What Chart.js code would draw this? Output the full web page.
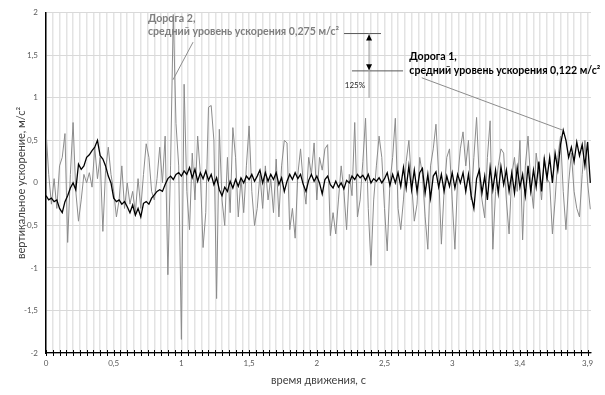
<!DOCTYPE html>
<html>
<head>
<meta charset="utf-8">
<script src="https://cdn.jsdelivr.net/npm/chart.js@4.4.1/dist/chart.umd.min.js"></script>
<style>body{margin:0;background:#fff}</style>
</head>
<body>
<canvas id="c" width="605" height="395"></canvas>
<script>
// sample step, s
const dt = 0.02;

// Дорога 1 (black)
const road1 = [
-0.15,-0.2,-0.18,-0.22,-0.2,-0.3,-0.35,-0.22,-0.15,-0.06,
0.0,-0.08,0.22,0.16,0.2,0.3,0.33,0.38,0.42,0.5,
0.32,0.28,0.2,0.08,0.0,-0.18,-0.22,-0.2,-0.25,-0.22,
-0.28,-0.35,-0.26,-0.38,-0.3,-0.4,-0.24,-0.22,-0.25,-0.18,
-0.14,-0.1,-0.08,-0.1,-0.02,0.05,0.08,0.04,0.1,0.12,
0.08,0.14,0.1,0.18,0.06,0.16,0.02,0.12,0.05,0.14,
0.03,0.1,-0.02,0.06,-0.08,-0.15,-0.05,-0.1,0.02,-0.06,
0.04,-0.04,0.06,0.0,0.08,0.04,0.1,0.02,0.08,0.15,
0.0,0.12,0.02,0.1,0.04,0.12,-0.02,0.06,-0.1,0.02,
0.1,0.04,0.12,0.05,0.1,-0.02,-0.1,0.03,0.1,0.02,
0.08,0.0,-0.13,0.04,0.08,-0.02,-0.06,0.02,-0.05,0.0,
-0.07,0.03,0.0,0.08,0.04,0.1,0.06,0.09,0.03,0.1,
0.0,0.05,0.02,0.06,0.0,0.05,0.12,-0.03,0.1,0.0,
0.12,-0.04,0.18,-0.06,0.2,-0.08,0.15,-0.1,0.12,0.17,
-0.12,0.1,-0.18,0.08,0.13,-0.05,0.1,-0.1,0.08,-0.04,
0.12,-0.06,0.1,0.0,0.12,-0.1,0.1,-0.15,-0.3,0.05,
0.15,-0.12,0.08,-0.2,0.18,-0.08,0.15,-0.12,0.19,-0.02,
0.15,-0.1,0.12,-0.12,0.18,-0.05,0.1,-0.15,0.2,-0.1,
0.15,-0.05,0.25,-0.1,0.28,0.05,0.3,0.0,0.35,0.15,
0.45,0.62,0.5,0.3,0.42,0.25,0.48,0.32,0.45,0.2,
0.48,0.0
];

// Дорога 2 (grey)
const road2 = [
0.62,0.1,-0.25,0.05,-0.3,0.2,0.3,0.58,-0.7,0.1,
0.71,-0.1,-0.45,-0.2,0.1,0.0,0.12,-0.05,0.42,0.05,
0.3,-0.57,0.15,0.42,0.1,-0.1,-0.4,-0.2,0.2,-0.3,
0.0,-0.25,-0.1,-0.35,0.05,-0.3,0.1,0.46,0.3,-0.1,
-0.2,0.05,0.42,0.0,0.55,-1.08,0.2,1.98,0.7,0.2,
-1.84,1.16,-0.1,-0.55,0.35,-0.2,0.55,0.1,-0.76,-0.35,
0.89,0.91,0.5,-1.36,0.63,-0.2,-0.5,0.3,-0.35,0.65,
0.3,-0.4,0.05,-0.35,0.2,0.67,-0.1,-0.5,-0.3,0.1,
-0.3,0.2,-0.2,0.05,-0.35,0.28,-0.4,0.2,0.5,0.47,
-0.55,-0.3,-0.65,0.1,0.4,0.0,-0.25,0.3,0.1,0.47,
-0.2,0.3,0.15,0.4,0.45,-0.62,-0.35,-0.6,-0.2,0.2,
-0.1,-0.55,0.1,-0.15,0.71,-0.4,-0.2,0.25,0.76,-0.3,
-0.97,-0.2,0.2,0.55,0.3,-0.3,-0.8,0.0,0.3,0.76,
-0.3,-0.55,-0.2,0.25,0.5,0.0,-0.45,-0.25,0.3,0.1,
-0.4,-0.78,0.2,0.4,0.69,0.1,-0.72,-0.1,0.3,0.4,
-0.2,-0.78,0.05,0.4,0.6,0.2,0.5,-0.2,0.3,0.77,
0.05,-0.2,-0.41,0.3,0.73,-0.78,-0.1,0.2,0.4,0.35,
-0.2,-0.6,0.1,0.3,-0.1,0.5,-0.67,0.2,0.55,0.0,
-0.3,0.35,0.1,-0.2,0.3,0.05,0.0,-0.6,-0.2,0.3,
0.55,-0.1,-0.55,0.0,0.35,-0.1,-0.3,-0.4,0.1,0.5,
0.0,-0.31
];

const xTickLabels = ['0','0,5','1','1,5','2','2,5','3','3,4','3,9'];
const yTickLabels = ['-2','-1,5','-1','-0,5','0','0,5','1','1,5','2'];

function pts(arr){ return arr.map((v,i)=>({x:+(i*dt).toFixed(2), y:v})); }

// small crosses on the x axis
const tickCross = {
  id:'tickCross',
  afterDraw(chart){
    const ctx = chart.ctx, sx = chart.scales.x, b = chart.chartArea.bottom;
    ctx.save();
    ctx.strokeStyle = '#000'; ctx.lineWidth = 1;
    sx.ticks.forEach(t=>{
      const px = Math.round(sx.getPixelForValue(t.value))+0.5;
      ctx.beginPath(); ctx.moveTo(px,b-3); ctx.lineTo(px,b+3); ctx.stroke();
    });
    ctx.restore();
  }
};

// callouts, anchored in data units
const annot = {
  id:'annot',
  afterDraw(chart){
    const {ctx, scales:{x,y}} = chart;
    const X = v=>x.getPixelForValue(v), Y = v=>y.getPixelForValue(v);
    function ln(x1,y1,x2,y2,c,w){
      ctx.beginPath(); ctx.strokeStyle=c; ctx.lineWidth=w||1;
      ctx.moveTo(X(x1),Y(y1)); ctx.lineTo(X(x2),Y(y2)); ctx.stroke();
    }
    function tri(xv,yv,dir){
      const px=X(xv), py=Y(yv);
      ctx.beginPath(); ctx.fillStyle='#000';
      ctx.moveTo(px,py); ctx.lineTo(px-3,py+dir*6); ctx.lineTo(px+3,py+dir*6); ctx.closePath(); ctx.fill();
    }
    ctx.save();
    // Дорога 2
    ln(1.086,1.655,0.938,1.213,'#8c8c8c');
    ln(2.201,1.756,2.474,1.756,'#595959');
    // Дорога 1
    ln(2.26,1.317,2.637,1.317,'#595959');
    ln(2.775,1.236,3.818,0.619,'#8c8c8c');
    // difference arrow
    ln(2.386,1.756,2.386,1.0,'#a6a6a6',1.2);
    tri(2.386,1.745,1);
    tri(2.386,1.325,-1);

    ctx.textBaseline='alphabetic'; ctx.textAlign='left';
    ctx.font='bold 10.6px Lato';
    ctx.fillStyle='#7f7f7f';
    ctx.fillText('Дорога 2,', X(0.753), Y(1.893));
    ctx.fillText('средний уровень ускорения 0,275 м/с²', X(0.753), Y(1.736));
    ctx.fillStyle='#000';
    ctx.fillText('Дорога 1,', X(2.683), Y(1.442));
    ctx.fillText('средний уровень ускорения 0,122 м/с²', X(2.683), Y(1.286));
    ctx.font='8px Lato'; ctx.textAlign='center'; ctx.fillStyle='#262626';
    ctx.fillText('125%', X(2.282), Y(1.12));
    ctx.restore();
  }
};

new Chart(document.getElementById('c'), {
  type:'line',
  data:{
    datasets:[
      {label:'Дорога 1', data:pts(road1), borderColor:'#000', borderWidth:1.3, pointRadius:0, tension:0},
      {label:'Дорога 2', data:pts(road2), borderColor:'#8c8c8c', borderWidth:1, pointRadius:0, tension:0}
    ]
  },
  options:{
    responsive:false,
    animation:false,
    layout:{padding:{top:9,right:14,left:0,bottom:0}},
    plugins:{legend:{display:false}, tooltip:{enabled:false}},
    scales:{
      x:{
        type:'linear', min:0, max:4.025,
        afterFit(s){ s.height = 42; },
        grid:{color:'#e3e3e3', lineWidth:1.5, drawTicks:false},
        border:{color:'#000', width:1.3},
        ticks:{
          stepSize:0.05, autoSkip:false, includeBounds:false, maxRotation:0, padding:6,
          font:{family:'Lato', size:8}, color:'#595959',
          callback(v){ const k=v/0.5, r=Math.round(k); return Math.abs(k-r)<1e-6 ? xTickLabels[r] : ''; }
        },
        title:{display:true, text:'время движения, с', font:{family:'Lato', size:11}, color:'#404040', padding:{top:0,bottom:8}}
      },
      y:{
        min:-2, max:2,
        afterFit(s){ s.width = 46; },
        grid:{color:'#d9d9d9', lineWidth:1, drawTicks:false},
        border:{color:'#000', width:1.5},
        ticks:{
          stepSize:0.5, padding:8,
          font:{family:'Lato', size:8}, color:'#595959',
          callback(v){ return yTickLabels[Math.round((v+2)/0.5)]; }
        },
        title:{display:true, text:'вертикальное ускорение, м/с²', font:{family:'Lato', size:11}, color:'#404040', padding:{top:15,bottom:0}}
      }
    }
  },
  plugins:[tickCross, annot]
});
</script>
</body>
</html>
